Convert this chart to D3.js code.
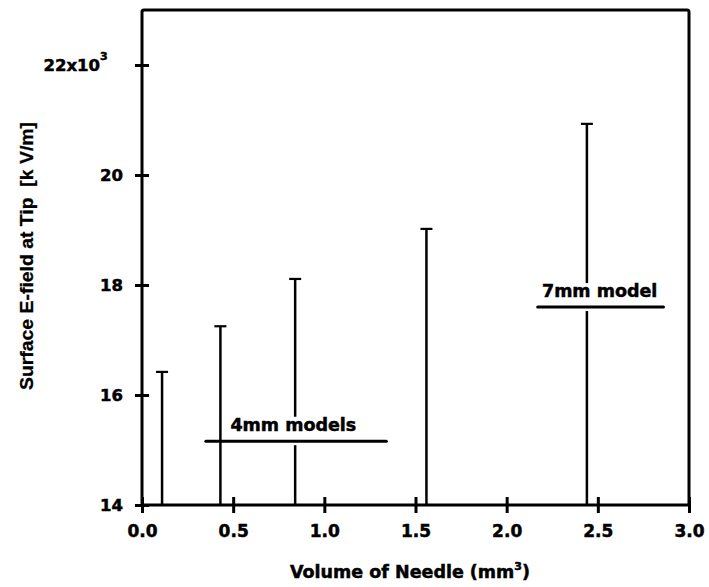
<!DOCTYPE html>
<html>
<head>
<meta charset="utf-8">
<script src="https://cdn.jsdelivr.net/npm/d3@7"></script>
<style>
  body { margin: 0; background: #fff; }
  svg { display: block; }
  text { font-family: "DejaVu Sans", sans-serif; font-weight: bold; fill: #000; stroke: #000; stroke-width: 0.5px; }
</style>
</head>
<body>
<svg id="chart" width="709" height="587"></svg>
<script>
// ---- data ----
const volumes = [0.11, 0.43, 0.84, 1.56, 2.44];          // mm^3
const fields  = [16.42, 17.25, 18.11, 19.02, 20.93];     // x10^3 kV/m
const xTicks = [0, 0.5, 1.0, 1.5, 2.0, 2.5, 3.0];
const yTicks = [14, 16, 18, 20, 22];
const xDomain = [0, 3];
const yDomain = [14, 23];
const xTitle = "Volume of Needle (mm";
const yTitle = "Surface E-field at Tip\u00a0\u00a0[k V/m]";
const annotations = [
  { text: "4mm models", x: 0.83, y: 15.35, lineY: 15.16, x0: 0.35, x1: 1.34 },
  { text: "7mm model",  x: 2.51, y: 17.78, lineY: 17.60, x0: 2.17, x1: 2.86 }
];

// ---- layout ----
const svg = d3.select("#chart");
const mLeft = 142, mRight = 689, mTop = 10, mBottom = 505;
const x = d3.scaleLinear().domain(xDomain).range([mLeft, mRight]);
const y = d3.scaleLinear().domain(yDomain).range([mBottom, mTop]);

// needles
const g = svg.append("g");
g.selectAll("line.needle").data(volumes).join("line")
  .attr("class", "needle")
  .attr("x1", d => x(d)).attr("x2", d => x(d))
  .attr("y1", y(yDomain[0])).attr("y2", (d, i) => y(fields[i]))
  .attr("stroke", "#000").attr("stroke-width", 2.5);
g.selectAll("line.cap").data(volumes).join("line")
  .attr("class", "cap")
  .attr("x1", d => x(d) - 6).attr("x2", d => x(d) + 6)
  .attr("y1", (d, i) => y(fields[i])).attr("y2", (d, i) => y(fields[i]))
  .attr("stroke", "#000").attr("stroke-width", 2.2);

// annotations with white backing
annotations.forEach(a => {
  const cx = x(a.x), by = y(a.y);
  const ag = svg.append("g");
  const bg = ag.append("rect").attr("fill", "#fff");
  const t = ag.append("text").attr("x", cx).attr("y", by)
    .attr("text-anchor", "middle").style("font-size", "17.5px").text(a.text);
  const bb = t.node().getBBox();
  const ly = y(a.lineY);
  bg.attr("x", bb.x - 2).attr("y", bb.y + 2)
    .attr("width", bb.width + 4).attr("height", ly - bb.y + 2);
  ag.append("line")
    .attr("x1", x(a.x0)).attr("x2", x(a.x1)).attr("y1", ly).attr("y2", ly)
    .attr("stroke", "#000").attr("stroke-width", 3).attr("stroke-linecap", "round");
});

// frame
svg.append("rect")
  .attr("x", mLeft).attr("y", mTop).attr("width", mRight - mLeft).attr("height", mBottom - mTop)
  .attr("fill", "none").attr("stroke", "#000").attr("stroke-width", 3)
  .attr("rx", 2).attr("stroke-linejoin", "round");

// x axis ticks (crossing)
const xAxis = d3.axisBottom(x).tickValues(xTicks).tickFormat(d3.format(".1f")).tickSize(0).tickPadding(0);
const xa = svg.append("g").attr("transform", `translate(0,${mBottom})`).call(xAxis);
xa.select(".domain").remove();
xa.selectAll(".tick").append("line").attr("y1", -8).attr("y2", 8)
  .attr("stroke", "#000").attr("stroke-width", 3);
xa.selectAll(".tick text").attr("y", 32).attr("dy", 0)
  .style("font-size", "17px").style("font-family", "DejaVu Sans").style("font-weight", "bold")
  .style("stroke", "#000").style("stroke-width", "0.5px");

// y axis ticks (crossing)
const yAxis = d3.axisLeft(y).tickValues(yTicks).tickFormat(d => d === 22 ? "22x10" : d).tickSize(0).tickPadding(0);
const ya = svg.append("g").attr("transform", `translate(${mLeft},0)`).call(yAxis);
ya.select(".domain").remove();
ya.selectAll(".tick").append("line").attr("x1", -7).attr("x2", 7)
  .attr("stroke", "#000").attr("stroke-width", 3);
ya.selectAll(".tick text").attr("x", -19).attr("dy", "0.36em")
  .style("font-size", "16.5px").style("font-family", "DejaVu Sans").style("font-weight", "bold")
  .style("stroke", "#000").style("stroke-width", "0.5px");
ya.selectAll(".tick text").filter(d => d === 22)
  .attr("x", -42)
  .each(function () {
    d3.select(this.parentNode).append("text")
      .attr("x", -42).attr("y", -6).attr("fill", "#000")
      .attr("text-anchor", "start")
      .style("font-size", "11px").style("font-family", "DejaVu Sans").style("font-weight", "bold")
      .text("3");
  });

// x title
const xt = svg.append("text").attr("x", 290).attr("y", 578).style("font-size", "17.5px");
xt.append("tspan").text(xTitle);
xt.append("tspan").attr("dy", -8).style("font-size", "11px").text("3");
xt.append("tspan").attr("dy", 8).text(")");

// y title
svg.append("text")
  .attr("transform", "translate(33,256) rotate(-90)")
  .attr("text-anchor", "middle")
  .attr("textLength", 268).attr("lengthAdjust", "spacingAndGlyphs")
  .style("font-family", "'Liberation Sans Narrow', 'Liberation Sans', Arial, sans-serif")
  .style("font-size", "19px")
  .style("stroke-width", "0.3px")
  .text(yTitle);
</script>
</body>
</html>
